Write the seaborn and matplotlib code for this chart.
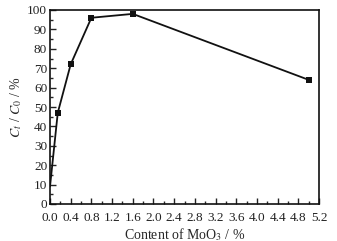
import matplotlib
matplotlib.use("Agg")
import matplotlib.pyplot as plt
import seaborn as sns
import numpy as np
import pandas as pd
from matplotlib.ticker import MultipleLocator, FormatStrFormatter

content = [0.0, 0.15, 0.4, 0.8, 1.6, 5.0]
ratio = [9, 47, 72, 96, 98, 64]

sns.set_theme(style="ticks")
plt.rcParams['font.family'] = ['Liberation Serif', 'DejaVu Serif']
plt.rcParams['mathtext.fontset'] = 'stix'

df = pd.DataFrame({"x": content, "y": ratio})
fig = plt.figure(figsize=(3.37, 2.41), dpi=100)
ax = fig.add_axes([50/337, 1-204/241, 269/337, 194/241])
sns.lineplot(data=df, x="x", y="y", ax=ax, color="#111111", lw=1.3,
             marker="s", markersize=5, markeredgewidth=0,
             markevery=list(range(1, len(content))))
ax.set_xlim(0, 5.2)
ax.set_ylim(0, 100)
ax.xaxis.set_major_locator(MultipleLocator(0.4))
ax.xaxis.set_minor_locator(MultipleLocator(0.2))
ax.xaxis.set_major_formatter(FormatStrFormatter("%.1f"))
ax.yaxis.set_major_locator(MultipleLocator(10))
ax.yaxis.set_minor_locator(MultipleLocator(5))
ax.tick_params(which="major", direction="in", length=4, width=1, labelsize=9.5, colors="#222222")
ax.tick_params(axis="x", pad=6)
ax.tick_params(axis="y", pad=2)
ax.tick_params(which="minor", direction="in", length=2, width=1)
for s in ax.spines.values():
    s.set_linewidth(1.2)
    s.set_color("#111111")
ax.set_xlabel("Content of MoO$_3$ / %", fontsize=10, labelpad=1)
ax.set_ylabel("$C_t$ / $C_0$ / %", fontsize=10, labelpad=2)
fig.savefig("out.png", dpi=100)
